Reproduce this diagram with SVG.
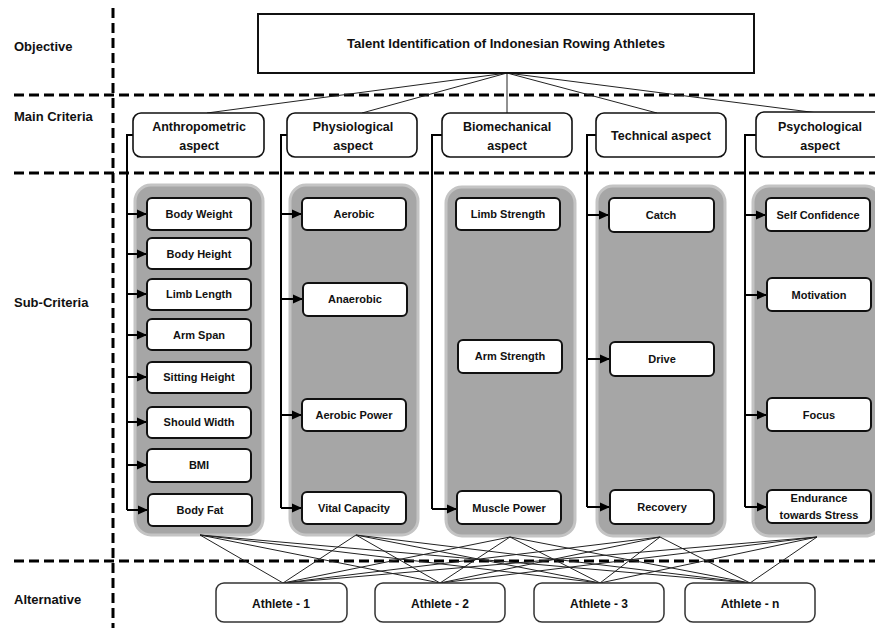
<svg xmlns="http://www.w3.org/2000/svg" width="875" height="628" viewBox="0 0 875 628">
<defs>
<marker id="ah" markerUnits="userSpaceOnUse" markerWidth="10" markerHeight="10" viewBox="0 0 10 10" refX="10" refY="5" orient="auto">
<path d="M0,0.5 L10,5 L0,9.5 Z" fill="#000"/>
</marker>
</defs>
<style>
text{font-family:"Liberation Sans",Arial,sans-serif;font-weight:bold;fill:#111;text-anchor:middle;dominant-baseline:central}
.lab{font-size:13px;text-anchor:start}
.dash{stroke:#000;stroke-width:3;stroke-dasharray:10 5;fill:none}
.main rect{fill:#fff;stroke:#111;stroke-width:1.6}
.main text{font-size:12.5px}
.panel{fill:#a6a6a6;stroke:#c4c4c4;stroke-width:3}
.sub rect{fill:#fff;stroke:#111;stroke-width:2}
.sub text{font-size:11px}
.ath rect{fill:#fff;stroke:#333;stroke-width:1.5}
.ath text{font-size:12px}
.thin{stroke:#222;stroke-width:1;fill:none}
.br{stroke:#000;stroke-width:2;fill:none}
.arr{stroke:#000;stroke-width:2;fill:none;marker-end:url(#ah)}
</style>
<rect width="875" height="628" fill="#fff"/>

<g id="layout">
<line class="dash" x1="113" y1="8" x2="113" y2="628"/>
<line class="dash" x1="14" y1="95" x2="875" y2="95"/>
<line class="dash" x1="14" y1="173" x2="875" y2="173"/>
<line class="dash" x1="14" y1="561" x2="875" y2="561"/>
<text class="lab" x="14" y="46">Objective</text>
<text class="lab" x="14" y="116">Main Criteria</text>
<text class="lab" x="14" y="302">Sub-Criteria</text>
<text class="lab" x="14" y="599">Alternative</text>
</g>

<g id="panels">
<rect class="panel" x="135" y="185" width="128" height="350" rx="16"/>
<rect class="panel" x="290" y="185" width="128" height="350" rx="16"/>
<rect class="panel" x="446" y="187" width="129" height="349" rx="16"/>
<rect class="panel" x="597" y="186" width="128" height="350" rx="16"/>
<rect class="panel" x="753" y="186" width="128" height="350" rx="16"/>
</g>

<g id="connectors">
<line class="thin" x1="507" y1="73" x2="207" y2="113"/>
<line class="thin" x1="507" y1="73" x2="362" y2="113"/>
<line class="thin" x1="507" y1="73" x2="507" y2="113"/>
<line class="thin" x1="507" y1="73" x2="657" y2="113"/>
<line class="thin" x1="507" y1="73" x2="818" y2="113"/>
<polyline class="br" points="133,135 127,135 127,510"/>
<polyline class="br" points="287,135 281,135 281,508"/>
<polyline class="br" points="442,135 432,135 432,509"/>
<polyline class="br" points="596,135 587,135 587,507"/>
<polyline class="br" points="756,135 745,135 745,507"/>
<line class="arr" x1="127" y1="214" x2="147" y2="214"/>
<line class="arr" x1="127" y1="254" x2="147" y2="254"/>
<line class="arr" x1="127" y1="294" x2="147" y2="294"/>
<line class="arr" x1="127" y1="335" x2="147" y2="335"/>
<line class="arr" x1="127" y1="377" x2="147" y2="377"/>
<line class="arr" x1="127" y1="422" x2="147" y2="422"/>
<line class="arr" x1="127" y1="465" x2="147" y2="465"/>
<line class="arr" x1="127" y1="510" x2="148" y2="510"/>
<line class="arr" x1="281" y1="214" x2="302" y2="214"/>
<line class="arr" x1="281" y1="299" x2="303" y2="299"/>
<line class="arr" x1="281" y1="415" x2="302" y2="415"/>
<line class="arr" x1="281" y1="508" x2="302" y2="508"/>
<line class="arr" x1="432" y1="509" x2="457" y2="509"/>
<line class="arr" x1="587" y1="215" x2="609" y2="215"/>
<line class="arr" x1="587" y1="359" x2="610" y2="359"/>
<line class="arr" x1="587" y1="507" x2="610" y2="507"/>
<line class="arr" x1="745" y1="215" x2="766" y2="215"/>
<line class="arr" x1="745" y1="295" x2="767" y2="295"/>
<line class="arr" x1="745" y1="415" x2="767" y2="415"/>
<line class="arr" x1="745" y1="507" x2="767" y2="507"/>
<g class="thin">
<line x1="200" y1="535" x2="283" y2="583"/><line x1="200" y1="535" x2="440" y2="583"/><line x1="200" y1="535" x2="600" y2="583"/><line x1="200" y1="535" x2="750" y2="583"/>
<line x1="356" y1="535" x2="283" y2="583"/><line x1="356" y1="535" x2="440" y2="583"/><line x1="356" y1="535" x2="600" y2="583"/><line x1="356" y1="535" x2="750" y2="583"/>
<line x1="510" y1="537" x2="283" y2="583"/><line x1="510" y1="537" x2="440" y2="583"/><line x1="510" y1="537" x2="600" y2="583"/><line x1="510" y1="537" x2="750" y2="583"/>
<line x1="660" y1="537" x2="283" y2="583"/><line x1="660" y1="537" x2="440" y2="583"/><line x1="660" y1="537" x2="600" y2="583"/><line x1="660" y1="537" x2="750" y2="583"/>
<line x1="817" y1="537" x2="283" y2="583"/><line x1="817" y1="537" x2="440" y2="583"/><line x1="817" y1="537" x2="600" y2="583"/><line x1="817" y1="537" x2="750" y2="583"/>
</g>
</g>

<g id="objective">
<rect x="258" y="14" width="496" height="59" fill="#fff" stroke="#111" stroke-width="2"/>
<text x="506" y="44" font-size="12.5" textLength="318" lengthAdjust="spacingAndGlyphs">Talent Identification of Indonesian Rowing Athletes</text>
</g>

<g id="anthropometric" class="main"><rect x="133" y="113" width="131" height="44" rx="8"/><text x="199" y="127">Anthropometric</text><text x="199" y="146">aspect</text></g>
<g id="physiological" class="main"><rect x="287" y="113" width="130" height="44" rx="8"/><text x="353" y="127">Physiological</text><text x="353" y="146">aspect</text></g>
<g id="biomechanical" class="main"><rect x="442" y="113" width="130" height="44" rx="8"/><text x="507" y="127">Biomechanical</text><text x="507" y="146">aspect</text></g>
<g id="technical" class="main"><rect x="596" y="113" width="130" height="44" rx="8"/><text x="661" y="136">Technical aspect</text></g>
<g id="psychological" class="main"><rect x="756" y="112" width="130" height="45" rx="8"/><text x="820" y="127">Psychological</text><text x="820" y="146">aspect</text></g>

<g id="body-weight" class="sub"><rect x="147" y="198" width="104" height="32" rx="5"/><text x="199" y="214">Body Weight</text></g>
<g id="body-height" class="sub"><rect x="147" y="238" width="104" height="31" rx="5"/><text x="199" y="254">Body Height</text></g>
<g id="limb-length" class="sub"><rect x="147" y="279" width="104" height="31" rx="5"/><text x="199" y="294">Limb Length</text></g>
<g id="arm-span" class="sub"><rect x="147" y="319" width="104" height="31" rx="5"/><text x="199" y="335">Arm Span</text></g>
<g id="sitting-height" class="sub"><rect x="147" y="362" width="104" height="31" rx="5"/><text x="199" y="377">Sitting Height</text></g>
<g id="should-width" class="sub"><rect x="147" y="407" width="104" height="31" rx="5"/><text x="199" y="422">Should Width</text></g>
<g id="bmi" class="sub"><rect x="147" y="449" width="104" height="33" rx="5"/><text x="199" y="465">BMI</text></g>
<g id="body-fat" class="sub"><rect x="148" y="494" width="104" height="32" rx="5"/><text x="200" y="510">Body Fat</text></g>

<g id="aerobic" class="sub"><rect x="302" y="198" width="104" height="32" rx="5"/><text x="354" y="214">Aerobic</text></g>
<g id="anaerobic" class="sub"><rect x="303" y="283" width="104" height="33" rx="5"/><text x="355" y="299">Anaerobic</text></g>
<g id="aerobic-power" class="sub"><rect x="302" y="399" width="104" height="32" rx="5"/><text x="354" y="415">Aerobic Power</text></g>
<g id="vital-capacity" class="sub"><rect x="302" y="492" width="104" height="32" rx="5"/><text x="354" y="508">Vital Capacity</text></g>

<g id="limb-strength" class="sub"><rect x="456" y="198" width="104" height="32" rx="5"/><text x="508" y="214">Limb Strength</text></g>
<g id="arm-strength" class="sub"><rect x="458" y="340" width="104" height="33" rx="5"/><text x="510" y="356">Arm Strength</text></g>
<g id="muscle-power" class="sub"><rect x="457" y="491" width="104" height="33" rx="5"/><text x="509" y="508">Muscle Power</text></g>

<g id="catch" class="sub"><rect x="609" y="198" width="105" height="34" rx="5"/><text x="661" y="215">Catch</text></g>
<g id="drive" class="sub"><rect x="610" y="342" width="104" height="34" rx="5"/><text x="662" y="359">Drive</text></g>
<g id="recovery" class="sub"><rect x="610" y="490" width="104" height="34" rx="5"/><text x="662" y="507">Recovery</text></g>

<g id="self-confidence" class="sub"><rect x="766" y="198" width="104" height="33" rx="5"/><text x="818" y="215">Self Confidence</text></g>
<g id="motivation" class="sub"><rect x="767" y="278" width="104" height="33" rx="5"/><text x="819" y="295">Motivation</text></g>
<g id="focus" class="sub"><rect x="767" y="398" width="104" height="33" rx="5"/><text x="819" y="415">Focus</text></g>
<g id="endurance" class="sub"><rect x="767" y="490" width="104" height="33" rx="5"/><text x="819" y="498">Endurance</text><text x="819" y="515">towards Stress</text></g>

<g id="athlete-1" class="ath"><rect x="216" y="583" width="131" height="39" rx="8"/><text x="281" y="604">Athlete - 1</text></g>
<g id="athlete-2" class="ath"><rect x="375" y="583" width="130" height="39" rx="8"/><text x="440" y="604">Athlete - 2</text></g>
<g id="athlete-3" class="ath"><rect x="534" y="583" width="130" height="39" rx="8"/><text x="599" y="604">Athlete - 3</text></g>
<g id="athlete-n" class="ath"><rect x="685" y="583" width="130" height="39" rx="8"/><text x="750" y="604">Athlete - n</text></g>
</svg>
